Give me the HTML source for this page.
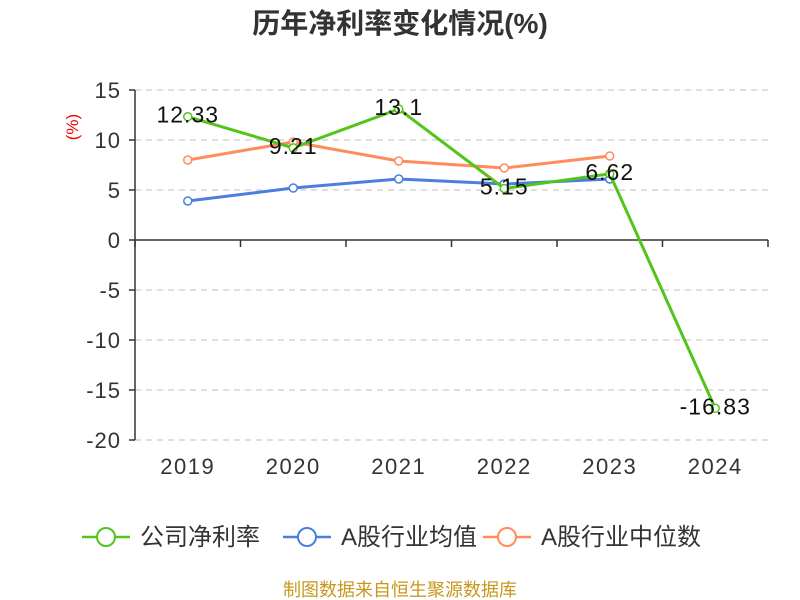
<!DOCTYPE html>
<html><head><meta charset="utf-8"><style>
body{margin:0;background:#fff;}
svg{display:block;font-family:"Liberation Sans","Noto Sans CJK SC",sans-serif;}
</style></head><body>
<svg id="c" width="800" height="600">
<text x="400" y="33" text-anchor="middle" font-size="28" font-weight="bold" fill="#333">历年净利率变化情况(%)</text>
<text x="78" y="127" text-anchor="middle" font-size="17" fill="#e00" transform="rotate(-90 78 127)">(%)</text>
<g id="grid"></g><g id="axes"></g><g id="series"></g>
<g>
<g><line x1="82" y1="537" x2="130" y2="537" stroke="#52c41a" stroke-width="2.5"/><circle cx="106" cy="537" r="9" fill="#fff" stroke="#52c41a" stroke-width="2"/><text x="140" y="545" font-size="24" fill="#333">公司净利率</text></g>
<g><line x1="283" y1="537" x2="331" y2="537" stroke="#4a7fe0" stroke-width="2.5"/><circle cx="307" cy="537" r="9" fill="#fff" stroke="#4a7fe0" stroke-width="2"/><text x="341" y="545" font-size="24" fill="#333">A股行业均值</text></g>
<g><line x1="483" y1="537" x2="531" y2="537" stroke="#ff8c5a" stroke-width="2.5"/><circle cx="507" cy="537" r="9" fill="#fff" stroke="#ff8c5a" stroke-width="2"/><text x="541" y="545" font-size="24" fill="#333">A股行业中位数</text></g>
</g>
<text x="400" y="596" text-anchor="middle" font-size="18" fill="#c8981e">制图数据来自恒生聚源数据库</text>
</svg>
<script>
const categories=["2019","2020","2021","2022","2023","2024"];
const companyValues=[12.33,9.21,13.1,5.15,6.62,-16.83];
const industryAvg=[3.9,5.2,6.1,5.6,6.1,null];
const industryMedian=[8.0,9.8,7.9,7.2,8.4,null];
const yTicks=[15,10,5,0,-5,-10,-15,-20];
const NS="http://www.w3.org/2000/svg";
const L=135,R=768,T=90,B=440,yMin=-20,yMax=15;
const bw=(R-L)/categories.length;
const xs=i=>L+bw*(i+0.5);
const ys=v=>T+(yMax-v)/(yMax-yMin)*(B-T);
function mk(tag,attrs,parent,txt){const e=document.createElementNS(NS,tag);for(const k in attrs)e.setAttribute(k,attrs[k]);if(txt!=null)e.textContent=txt;parent.appendChild(e);return e;}
const grid=document.getElementById('grid'),axes=document.getElementById('axes'),ser=document.getElementById('series');
yTicks.forEach(t=>{
 const y=ys(t);
 if(t!==0){const g=mk('line',{x1:L,x2:R,y1:y,y2:y,stroke:'#ccc','stroke-dasharray':'6,5','stroke-width':1.3},grid);
 
 }
 const tk=mk('line',{x1:L-6,x2:L,y1:y,y2:y,stroke:'#333','stroke-width':1.5},axes);
 
 
 const lb=mk('text',{x:L-14,y:y+8,'text-anchor':'end','font-size':22,'letter-spacing':1,fill:'#333'},axes,String(t));
 
 
});
const ya=mk('line',{x1:L,x2:L,y1:T,y2:B,stroke:'#333','stroke-width':1.5},axes);


const xa=mk('line',{x1:L,x2:R,y1:ys(0),y2:ys(0),stroke:'#333','stroke-width':1.5},axes);


for(let i=0;i<=categories.length;i++){const x=L+bw*i;const tk=mk('line',{x1:x,x2:x,y1:ys(0),y2:ys(0)+7,stroke:'#333','stroke-width':1.5},axes);
 
 }
categories.forEach((c,i)=>{const t=mk('text',{x:xs(i),y:474,'text-anchor':'middle','font-size':22,'letter-spacing':1.5,fill:'#333'},axes,c);
 
 });
function drawSeries(vals,color,name,labels){
 const pts=[];vals.forEach((v,i)=>{if(v!=null)pts.push([xs(i),ys(v),v]);});
 const p=mk('polyline',{points:pts.map(p=>p[0]+','+p[1]).join(' '),fill:'none',stroke:color,'stroke-width':3,'stroke-linejoin':'round'},ser);
 
 
 pts.forEach(q=>{const c=mk('circle',{cx:q[0],cy:q[1],r:4,fill:'#fff',stroke:color,'stroke-width':1.5},ser);
  
  });
 if(labels)pts.forEach(q=>{const t=mk('text',{x:q[0],y:q[1]+6,'text-anchor':'middle','font-size':23,'letter-spacing':1,fill:'#111'},ser,String(q[2]));
  
  });
}
drawSeries(industryMedian,'#ff8c5a','industry-median',false);
drawSeries(industryAvg,'#4a7fe0','industry-avg',false);
drawSeries(companyValues,'#52c41a','company-net-margin',true);
</script>
</body></html>
